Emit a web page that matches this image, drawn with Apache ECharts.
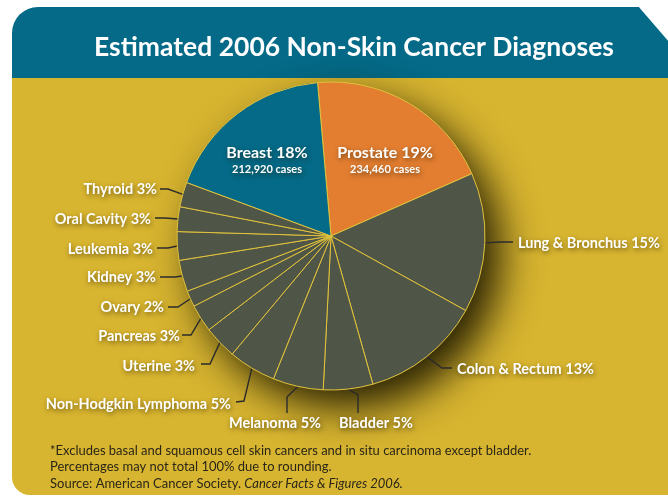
<!DOCTYPE html>
<html>
<head>
<meta charset="utf-8">
<script src="https://cdn.jsdelivr.net/npm/echarts@6/dist/echarts.min.js"></script>
<style>
  html, body { margin: 0; padding: 0; background: #ffffff; }
  #chart-container { width: 668px; height: 497px; }
</style>
</head>
<body>
<div id="chart-container"></div>
<script>
// slices in clockwise order, starting at the Prostate slice
const cancerSites = ['Prostate', 'Lung & Bronchus', 'Colon & Rectum', 'Bladder', 'Melanoma',
    'Non-Hodgkin Lymphoma', 'Uterine', 'Pancreas', 'Ovary', 'Kidney', 'Leukemia',
    'Oral Cavity', 'Thyroid', 'Breast'];
const shareValues = [19.8, 14.7, 12.6, 5.2, 5.3, 5.0, 3.5, 2.9, 1.7, 3.3, 3.0, 2.6, 2.6, 18.0];
const shareLabels = ['19%', '15%', '13%', '5%', '5%', '5%', '3%', '3%', '2%', '3%', '3%', '3%', '3%', '18%'];
const caseLabels = ['234,460 cases', '', '', '', '', '', '', '', '', '', '', '', '', '212,920 cases'];

const footnotes = [
    '*Excludes basal and squamous cell skin cancers and in situ carcinoma except bladder.',
    'Percentages may not total 100% due to rounding.'
];
const sourceText = 'Source: American Cancer Society. ';
const sourceTitle = 'Cancer Facts & Figures 2006.';

const teal = '#046a87';
const gold = '#d8b530';
const slate = '#4f5647';
const orange = '#e37e31';
const fontName = 'Lato, "Open Sans", sans-serif';

// where each label sits, with the bend and end of its leader line
const labelSpots = [
    { x: 385, y: 160, align: 'center' },
    { x: 518, y: 243, align: 'left', line: [[500, 242], [513, 242]] },
    { x: 457, y: 369, align: 'left', line: [[442, 368], [452, 368]] },
    { x: 376, y: 423, align: 'center', line: [[358, 395], [358, 413]] },
    { x: 275, y: 423, align: 'center', line: [[287, 397], [287, 413]] },
    { x: 231, y: 404, align: 'right', line: [[244, 401], [236, 402]] },
    { x: 195, y: 366, align: 'right', line: [[210, 364], [201, 364]] },
    { x: 180, y: 336, align: 'right', line: [[191, 335], [182, 335]] },
    { x: 164, y: 307, align: 'right', line: [[178, 307], [168, 307]] },
    { x: 156, y: 277, align: 'right', line: [[175, 277], [160, 277]] },
    { x: 153, y: 249, align: 'right', line: [[168, 248], [157, 248]] },
    { x: 151, y: 219, align: 'right', line: [[165, 218], [155, 218]] },
    { x: 157, y: 189, align: 'right', line: [[168, 189], [160, 189]] },
    { x: 267, y: 160, align: 'center' }
];

const pieCenter = [331, 236];
const pieRadius = 154;

var dom = document.getElementById('chart-container');
var myChart = echarts.init(dom, null, { renderer: 'canvas' });

const pieData = cancerSites.map(function (name, i) {
    const inside = caseLabels[i] !== '';
    let color = slate;
    if (name === 'Prostate') color = orange;
    if (name === 'Breast') color = teal;
    return {
        name: name,
        value: shareValues[i],
        itemStyle: { color: color },
        label: {
            position: inside ? 'inside' : 'outside',
            formatter: inside
                ? '{big|' + name + ' ' + shareLabels[i] + '}\n{small|' + caseLabels[i] + '}'
                : name + ' ' + shareLabels[i]
        },
        labelLine: { show: !inside }
    };
});

const textShadow = {
    textShadowColor: 'rgba(40,30,0,0.6)',
    textShadowBlur: 5,
    textShadowOffsetX: 1,
    textShadowOffsetY: 2
};

var option = {
    animation: false,
    graphic: [
        {
            type: 'rect',
            z: -10,
            shape: { x: 12, y: 70, width: 700, height: 425, r: [0, 0, 0, 18] },
            style: { fill: gold }
        },
        {
            type: 'rect',
            z: -9,
            shape: { x: 12, y: 7, width: 700, height: 71, r: [26, 0, 0, 0] },
            style: { fill: teal }
        },
        {
            // cut corner at the top right of the header band
            type: 'polygon',
            z: -8,
            shape: { points: [[638, 6], [669, 6], [669, 42]] },
            style: { fill: '#ffffff' }
        },
        {
            type: 'text',
            z: 5,
            x: 354,
            y: 47,
            style: {
                text: 'Estimated 2006 Non-Skin Cancer Diagnoses',
                fill: '#ffffff',
                font: 'bold 26.5px ' + fontName,
                align: 'center',
                verticalAlign: 'middle'
            }
        },
        {
            type: 'text',
            z: 5,
            x: 50,
            y: 451,
            style: {
                text: footnotes[0],
                fill: '#2a2618',
                font: '13px ' + fontName,
                verticalAlign: 'middle'
            }
        },
        {
            type: 'text',
            z: 5,
            x: 50,
            y: 467,
            style: {
                text: footnotes[1],
                fill: '#2a2618',
                font: '13px ' + fontName,
                verticalAlign: 'middle'
            }
        },
        {
            type: 'text',
            z: 5,
            x: 50,
            y: 484,
            style: {
                text: '{n|' + sourceText + '}{i|' + sourceTitle + '}',
                verticalAlign: 'middle',
                rich: {
                    n: { fill: '#2a2618', font: '13px ' + fontName },
                    i: { fill: '#2a2618', font: 'italic 13px ' + fontName }
                }
            }
        }
    ],
    series: [
        {
            // plain disc behind the pie, only for its drop shadow
            type: 'pie',
            z: 1,
            silent: true,
            center: pieCenter,
            radius: pieRadius,
            label: { show: false },
            labelLine: { show: false },
            itemStyle: {
                color: slate,
                shadowColor: 'rgba(30,24,0,0.95)',
                shadowBlur: 40,
                shadowOffsetX: 16,
                shadowOffsetY: 18
            },
            data: [{ value: 1 }]
        },
        {
            type: 'pie',
            z: 2,
            center: pieCenter,
            radius: pieRadius,
            startAngle: 95,
            clockwise: true,
            avoidLabelOverlap: false,
            itemStyle: {
                borderColor: '#e2c33c',
                borderWidth: 1
            },
            emphasis: { disabled: true },
            label: {
                color: '#ffffff',
                fontFamily: fontName,
                fontWeight: 'bold',
                fontSize: 14.5,
                ...textShadow,
                rich: {
                    big: {
                        color: '#ffffff',
                        fontFamily: fontName,
                        fontWeight: 'bold',
                        fontSize: 16,
                        lineHeight: 19,
                        ...textShadow
                    },
                    small: {
                        color: '#ffffff',
                        fontFamily: fontName,
                        fontWeight: 'bold',
                        fontSize: 11,
                        lineHeight: 14,
                        ...textShadow
                    }
                }
            },
            labelLine: {
                length: 10,
                length2: 10,
                lineStyle: { color: '#2b2b2b', width: 1.4 }
            },
            labelLayout: function (params) {
                const spot = labelSpots[params.dataIndex];
                const layout = {
                    x: spot.x,
                    y: spot.y,
                    align: spot.align,
                    verticalAlign: 'middle'
                };
                if (spot.line && params.labelLinePoints) {
                    layout.labelLinePoints = [params.labelLinePoints[0], spot.line[0], spot.line[1]];
                }
                return layout;
            },
            data: pieData
        }
    ]
};

if (option && typeof option === 'object') {
    myChart.setOption(option);
}

window.addEventListener('resize', myChart.resize);
</script>
</body>
</html>
